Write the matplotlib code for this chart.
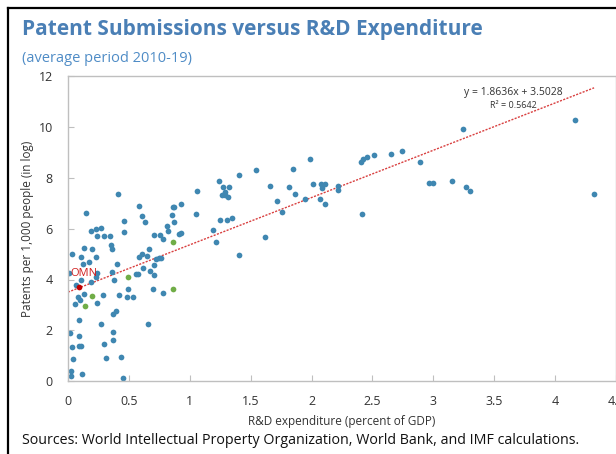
import matplotlib
matplotlib.use("Agg")
import matplotlib.pyplot as plt
from matplotlib.lines import Line2D
from matplotlib.ticker import FormatStrFormatter
import numpy as np

plt.rcParams['font.family'] = ['Open Sans', 'DejaVu Sans']

# R&D expenditure (% of GDP) and patents per 1,000 people (log)
rd_blue = [0.408, 1.057, 0.586, 0.145, 0.860, 0.873, 0.926, 1.051, 0.605, 0.857,
           0.457, 0.635, 0.871, 0.189, 0.230, 0.271, 0.457, 0.813, 0.824, 0.241,
           0.298, 0.347, 0.706, 0.758, 0.783, 0.912, 0.926, 0.356, 0.361, 0.129,
           0.200, 0.665, 0.033, 0.107, 0.232, 0.608, 0.583, 0.649, 0.720, 0.745,
           0.761, 0.170, 0.121, 0.405, 0.704, 0.614, 0.011, 0.241, 0.359, 0.671,
           0.559, 0.577, 0.709, 0.230, 0.107, 0.378, 0.191, 0.066, 0.493, 0.701,
           0.780, 0.131, 0.290, 0.416, 0.487, 0.536, 0.082, 0.099, 0.060, 0.241,
           0.392, 0.372, 0.090, 0.274, 0.660, 0.019, 0.093, 0.372, 0.370, 0.296,
           0.030, 0.093, 0.107, 0.044, 0.315, 0.435, 0.027, 0.025, 0.113, 0.454,
           1.990, 2.653, 2.516, 2.456, 2.425, 2.407, 1.848, 1.547, 1.402, 1.243,
           1.276, 1.320, 1.292, 1.262, 1.290, 1.312, 1.659, 1.815, 2.012, 2.081,
           2.111, 2.086, 2.218, 2.220, 1.862, 1.944, 2.070, 2.113, 1.717, 1.760,
           2.412, 1.251, 1.308, 1.349, 1.188, 1.216, 1.616, 1.407,
           4.164, 3.244, 2.746, 2.889, 2.968, 2.995, 3.152, 3.269, 3.304, 4.320]
pat_blue = [7.35, 7.49, 6.89, 6.64, 6.85, 6.86, 6.96, 6.57, 6.51, 6.54,
            6.29, 6.26, 6.27, 5.92, 6.00, 6.02, 5.87, 6.10, 5.92, 5.71,
            5.72, 5.70, 5.76, 5.76, 5.59, 5.81, 5.84, 5.37, 5.22, 5.26,
            5.19, 5.21, 5.01, 4.88, 4.89, 5.01, 4.89, 4.92, 4.81, 4.83,
            4.83, 4.69, 4.62, 4.63, 4.56, 4.45, 4.26, 4.24, 4.28, 4.32,
            4.21, 4.20, 4.16, 4.09, 3.99, 3.99, 3.89, 3.79, 3.61, 3.63,
            3.48, 3.43, 3.39, 3.39, 3.31, 3.33, 3.31, 3.20, 3.03, 3.06,
            2.74, 2.63, 2.41, 2.23, 2.24, 1.89, 1.78, 1.92, 1.61, 1.46,
            1.33, 1.39, 1.39, 0.87, 0.89, 0.93, 0.38, 0.21, 0.26, 0.11,
            8.74, 8.95, 8.89, 8.81, 8.73, 8.63, 8.36, 8.31, 8.11, 7.87,
            7.63, 7.65, 7.44, 7.33, 7.33, 7.26, 7.68, 7.65, 7.78, 7.78,
            7.76, 7.61, 7.68, 7.52, 7.37, 7.19, 7.17, 6.96, 7.09, 6.65,
            6.60, 6.34, 6.34, 6.44, 5.94, 5.46, 5.66, 4.97,
            10.30, 9.92, 9.06, 8.65, 7.81, 7.82, 7.87, 7.64, 7.47, 7.36]

# highlighted peers (green)
rd_green = [0.495, 0.862, 0.862, 0.200, 0.140]
pat_green = [4.11, 5.46, 3.61, 3.35, 2.94]

# Oman
omn_rd = 0.093
omn_pat = 3.69

# linear trend shown on the chart
slope = 1.8636
intercept = 3.5028
r2 = 0.5642

fig = plt.figure(figsize=(6.16, 4.54), dpi=100)
ax = fig.add_axes([68 / 616, (454 - 381) / 454, (616 - 68) / 616, (381 - 76.5) / 454])

# trendline over the data range
all_x = rd_blue + rd_green + [omn_rd]
xt = np.array([0, max(all_x)])
ax.plot(xt, slope * xt + intercept, color='#d94040', lw=1, ls=(0, (1.5, 1)), zorder=1)

ax.scatter(rd_blue, pat_blue, s=17, color='#3f87b1', linewidths=0, zorder=2)
ax.scatter(rd_green, pat_green, s=17, color='#70ad47', linewidths=0, zorder=3)
ax.scatter([omn_rd], [omn_pat], s=17, color='#c00000', linewidths=0, zorder=4)
ax.text(omn_rd + 0.04, omn_pat + 0.56, 'OMN', color='#d02020', fontsize=8,
        ha='center', va='center')

ax.text(3.655, 11.38, f'y = {slope}x + {intercept}', fontsize=7.5, ha='center',
        va='center', color='#333333')
ax.text(3.66, 10.87, f'R² = {r2}', fontsize=6.5, ha='center', va='center',
        color='#333333')

ax.set_xlim(0, 4.5)
ax.set_ylim(0, 12)
ax.set_xticks(np.arange(0, 4.51, 0.5))
ax.set_yticks(np.arange(0, 12.1, 2))
ax.xaxis.set_major_formatter(FormatStrFormatter('%g'))
ax.tick_params(direction='in', length=4, color='#bfbfbf', labelsize=9,
               labelcolor='#333333')
ax.tick_params(axis='y', pad=11)
ax.tick_params(axis='x', pad=10)
for side in ['top', 'left', 'bottom', 'right']:
    ax.spines[side].set_color('#bfbfbf')
    ax.spines[side].set_linewidth(1)

ax.set_xlabel('R&D expenditure (percent of GDP)', fontsize=8.5, color='#333333', labelpad=5)
ax.set_ylabel('Patents per 1,000 people (in log)', fontsize=8.5, color='#333333', labelpad=3)

fig.text(22 / 616, 1 - 30 / 454, 'Patent Submissions versus R&D Expenditure',
         fontsize=15, fontweight='bold', color='#4a7fb5', va='center', ha='left')
fig.text(22 / 616, 1 - 58 / 454, '(average period 2010-19)',
         fontsize=10.5, color='#4f8cc6', va='center', ha='left')
fig.text(22 / 616, 1 - 441 / 454,
         'Sources: World Intellectual Property Organization, World Bank, and IMF calculations.',
         fontsize=10.3, color='#111111', va='center', ha='left')

# black frame of the original panel (left and top edges)
fig.add_artist(Line2D([8 / 616, 8 / 616], [0, 1 - 8 / 454], transform=fig.transFigure,
                      color='black', lw=1.6))
fig.add_artist(Line2D([8 / 616, 1], [1 - 8 / 454, 1 - 8 / 454], transform=fig.transFigure,
                      color='black', lw=1.6))

fig.savefig('out.png', dpi=100)
